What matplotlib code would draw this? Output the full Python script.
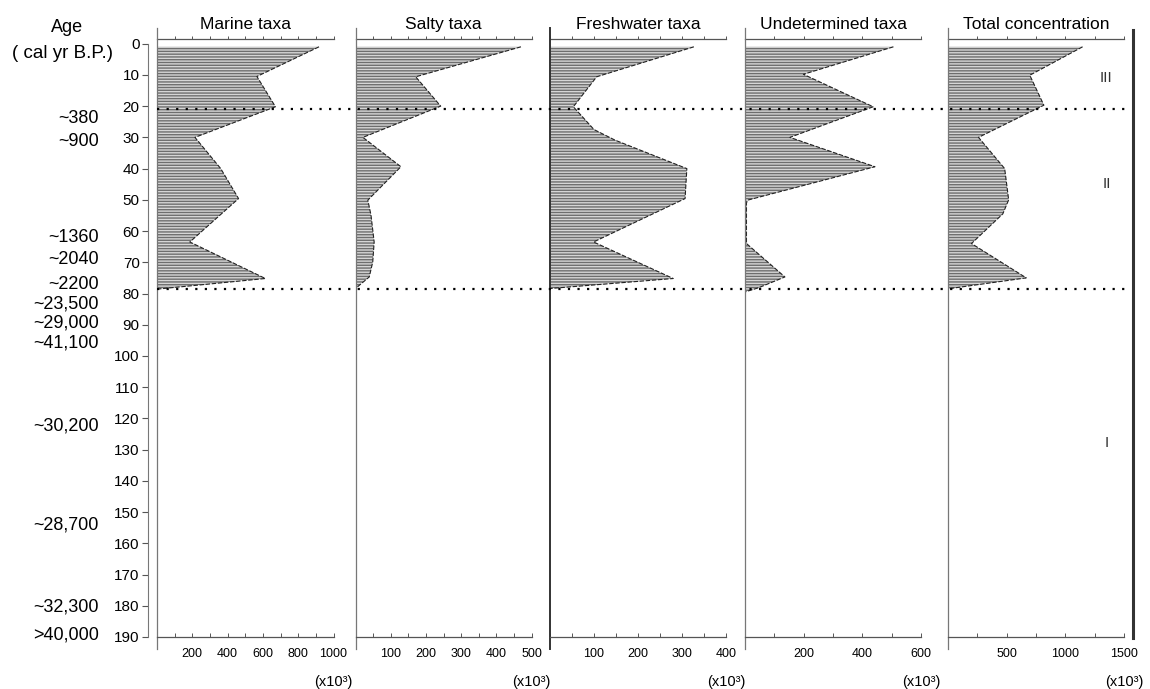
import matplotlib
matplotlib.use("Agg")
import matplotlib.pyplot as plt
import matplotlib.transforms as mtransforms
from matplotlib.lines import Line2D
from matplotlib.ticker import MultipleLocator, NullFormatter

plt.rcParams["font.family"] = ["Liberation Sans", "DejaVu Sans"]
plt.rcParams["hatch.linewidth"] = 1.0

# --- data (depth in cm, concentration in x10^3) ---
panel_titles = ["Marine taxa", "Salty taxa", "Freshwater taxa",
                "Undetermined taxa", "Total concentration"]

marine_depth = [1, 10.5, 20.2, 30.0, 40.0, 49.6, 63.5, 75.2, 78.6]
marine_val = [918, 566, 671, 215, 361, 462, 186, 614, 0]

salty_depth = [1, 10.6, 20.0, 30.0, 39.4, 50.1, 54.9, 63.5, 69.9, 74.7, 78.4]
salty_val = [470, 171, 242, 21, 129, 35, 44, 53, 49, 39, 0]

fresh_depth = [1, 10.6, 20.2, 27.5, 30.9, 40.0, 49.6, 63.5, 75.2, 78.4]
fresh_val = [327, 106, 53, 100, 148, 311, 307, 99, 280, 0]

undet_depth = [1, 9.8, 20.2, 30.0, 39.4, 50.1, 51.0, 64.0, 74.7, 78.2, 79.5]
undet_val = [506, 199, 437, 153, 443, 9, 5, 5, 136, 45, 0]

total_depth = [1, 10.1, 19.7, 30.0, 40.0, 50.0, 54.5, 64.0, 75.0, 78.5]
total_val = [1147, 697, 817, 260, 483, 517, 467, 200, 667, 0]

x_max = [1000, 500, 400, 600, 1500]
x_labels = [[200, 400, 600, 800, 1000], [100, 200, 300, 400, 500],
            [100, 200, 300, 400], [200, 400, 600], [500, 1000, 1500]]
x_minor = [100, 50, 50, 100, 250]

depth_ticks = list(range(0, 191, 10))

age_labels = ["~380", "~900", "~1360", "~2040", "~2200", "~23,500", "~29,000",
              "~41,100", "~30,200", "~28,700", "~32,300", ">40,000"]
age_depths = [23.9, 31.2, 62.0, 69.1, 77.0, 83.4, 89.4, 96.0, 122.5, 154.1,
              180.5, 189.5]

zone_names = ["III", "II", "I"]
zone_depths = [11, 45, 128]
zone_bounds = [20.8, 78.7]

series = [(marine_depth, marine_val), (salty_depth, salty_val),
          (fresh_depth, fresh_val), (undet_depth, undet_val),
          (total_depth, total_val)]

# --- layout (pixels of the 1150x689 reference) ---
W, H = 1150, 689
panel_px = [(157, 333.5), (355.5, 531.5), (550, 726), (745, 921), (948, 1124)]
top_px, bot_px = 39.2, 637
y_top = -1.44


def fx(px):
    return px / W


def fy(py):
    return 1 - py / H


fig = plt.figure(figsize=(W / 100, H / 100), dpi=100)
axes = []
for i, (l, r) in enumerate(panel_px):
    ax = fig.add_axes([fx(l), fy(bot_px), (r - l) / W, (bot_px - top_px) / H])
    ax.patch.set_visible(False)
    ax.set_ylim(190, y_top)
    ax.set_xlim(0, x_max[i])
    for s in ["right", "top"]:
        ax.spines[s].set_visible(False)
    ax.spines["bottom"].set_color("#555555")
    ax.spines["bottom"].set_linewidth(0.9)

    d, v = series[i]
    ax.fill_betweenx(d, 0, v, facecolor="#d6d6d6", edgecolor="#6e6e6e",
                     hatch="------", linewidth=0)
    ax.plot(v, d, color="#222222", lw=0.8, ls=(0, (4, 1.5)))

    # panel line, running from the title down below the base
    strong = i == 2
    ax.axvline(0, ymin=-0.02, ymax=1.0187, clip_on=False,
               color="#333333" if strong else "#777777",
               lw=1.4 if strong else 0.9)

    # bottom scale
    ax.set_xticks(x_labels[i])
    ax.set_xticklabels([str(t) for t in x_labels[i]])
    ax.xaxis.set_minor_locator(MultipleLocator(x_minor[i]))
    ax.tick_params(axis="x", which="both", direction="in", length=3,
                   width=0.7, color="#555555", pad=8, labelsize=9)
    for lab in ax.get_xticklabels():
        lab.set_family(["Liberation Sans Narrow", "Liberation Sans"])

    # top scale
    sec = ax.secondary_xaxis("top")
    sec.xaxis.set_major_locator(MultipleLocator(x_minor[i]))
    sec.xaxis.set_major_formatter(NullFormatter())
    sec.tick_params(direction="out", length=2.5, width=0.7, color="#555555")
    sec.spines["top"].set_color("#555555")
    sec.spines["top"].set_linewidth(0.9)

    if i == 0:
        ax.spines["left"].set_position(("outward", 6.5))
        ax.spines["left"].set_bounds(0, 190)
        ax.spines["left"].set_color("#777777")
        ax.spines["left"].set_linewidth(0.8)
        ax.set_yticks(depth_ticks)
        ax.tick_params(axis="y", direction="out", length=4.5, width=0.8,
                       color="#555555", pad=1.5, labelsize=11)
    else:
        ax.spines["left"].set_visible(False)
        ax.set_yticks([])

    ax.text(0.5, 1.025, panel_titles[i], transform=ax.transAxes,
            ha="center", va="center", fontsize=12.5)
    ax.text(1.0, -0.0753, "(x10³)", transform=ax.transAxes,
            ha="center", va="center", fontsize=10.5)
    axes.append(ax)

ax0 = axes[0]
blend = mtransforms.blended_transform_factory(fig.transFigure, ax0.transData)

# zone boundaries across all panels
for b in zone_bounds:
    fig.add_artist(Line2D([fx(157), fx(1131)], [b, b], transform=blend,
                          color="black", lw=1.6, ls=(0, (1, 3.3))))

# thick closing line on the right
fig.add_artist(Line2D([fx(1133), fx(1133)], [fy(30), fy(638)],
                      transform=fig.transFigure, color="#333333", lw=2.2))

# zone numerals
tot = axes[-1]
zblend = mtransforms.blended_transform_factory(tot.transAxes, tot.transData)
for name, d in zip(zone_names, zone_depths):
    tot.text(0.90, d, name, transform=zblend, ha="center", va="center",
             fontsize=11, color="#333333")

# age column
fig.text(fx(67), fy(28), "Age", ha="center", va="center", fontsize=13)
fig.text(fx(63), fy(53), "( cal yr B.P.)", ha="center", va="center",
         fontsize=13.5)
for lab, d in zip(age_labels, age_depths):
    ax0.text(fx(99), d, lab, transform=blend, ha="right", va="center",
             fontsize=13)

fig.savefig("out.png", dpi=100)
